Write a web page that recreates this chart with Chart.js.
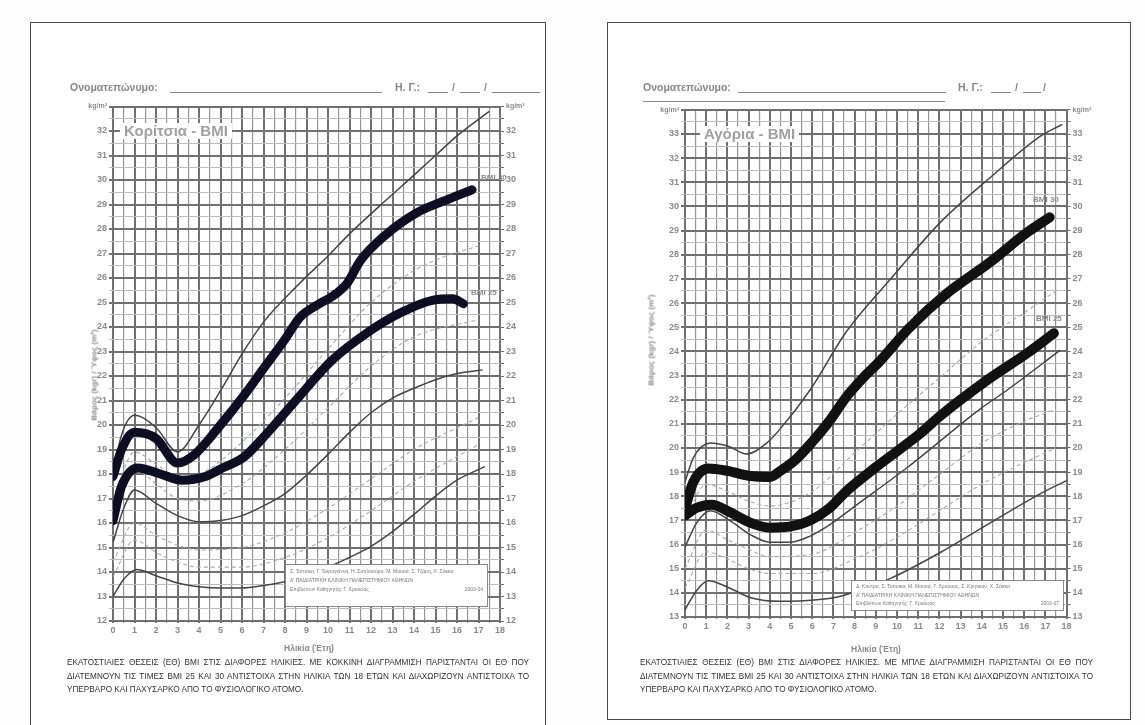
<!DOCTYPE html>
<html lang="el">
<head>
<meta charset="utf-8">
<title>BMI Κορίτσια - Αγόρια</title>
<script src="https://cdn.jsdelivr.net/npm/chart.js@4.4.0/dist/chart.umd.min.js"></script>
<style>
  html, body { margin: 0; padding: 0; background: #fdfdfd; }
  body { width: 1145px; height: 725px; position: relative; overflow: hidden; font-family: "Liberation Sans", Arial, sans-serif; }
  .panel { position: absolute; border: 1px solid #4a4a4a; background: #fff; box-sizing: border-box; }
  canvas { position: absolute; }
  .t { position: absolute; white-space: nowrap; }
  .hdr { font-size: 10.5px; font-weight: bold; color: #868686; }
  .ul { position: absolute; height: 0; border-bottom: 1.5px solid #8a8a8a; }
  .title { font-size: 15px; font-weight: bold; color: #a0a0a0; background: #fff; padding: 0 4px; line-height: 16px; }
  .ytitle { font-size: 8px; font-weight: bold; color: #8a8a8a; transform: translate(-50%, -50%) rotate(-90deg); }
  .xtitle { font-size: 8.5px; font-weight: bold; color: #8a8a8a; transform: translateX(-50%); }
  .bmi { font-size: 8px; font-weight: bold; color: #8a8a8a; }
  .box { position: absolute; border: 1.5px solid #8a8a8a; background: #fff; font-size: 5px; color: #777; padding: 2px 4px; box-sizing: border-box; line-height: 9px; white-space: nowrap; overflow: hidden; }
  .cap { position: absolute; font-size: 8.2px; color: #333; line-height: 13.5px; }
  .cap div { text-align: justify; text-align-last: justify; }
  .cap div.last { text-align-last: left; }
</style>
</head>
<body>

<div class="panel" style="left:30px;top:22px;width:516px;height:712px"></div>
<div class="panel" style="left:607px;top:22px;width:524px;height:698px"></div>

<canvas id="girls" width="516" height="640" style="left:30px;top:22px"></canvas>
<canvas id="boys" width="524" height="640" style="left:607px;top:22px"></canvas>

<!-- left sheet texts -->
<div class="t hdr" style="left:70px;top:81px">Ονοματεπώνυμο:</div>
<div class="ul" style="left:170px;top:92px;width:212px"></div>
<div class="t hdr" style="left:395px;top:81px">Η. Γ.:</div>
<div class="ul" style="left:428px;top:92px;width:20px"></div>
<div class="t hdr" style="left:452px;top:81px">/</div>
<div class="ul" style="left:460px;top:92px;width:20px"></div>
<div class="t hdr" style="left:484px;top:81px">/</div>
<div class="ul" style="left:492px;top:92px;width:48px"></div>

<div class="t title" style="left:120px;top:123px">Κορίτσια - BMI</div>
<div class="t ytitle" style="left:94px;top:375px">Βάρος (kgr) / Ύψος (m²)</div>
<div class="t xtitle" style="left:309px;top:643px">Ηλικία (Έτη)</div>
<div class="t bmi" style="left:481px;top:173px">BMI 30</div>
<div class="t bmi" style="left:471px;top:288px">BMI 25</div>

<div class="box" style="left:285px;top:564px;width:203px;height:43px">
  <div>Σ. Τσίτσικα, Γ. Τσιρογιάννη, Η. Σαπλαούρα, Μ. Μουσά, Σ. Τζάρη, Χ. Σάκκα</div>
  <div>Α' ΠΑΙΔΙΑΤΡΙΚΗ ΚΛΙΝΙΚΗ ΠΑΝΕΠΙΣΤΗΜΙΟΥ ΑΘΗΝΩΝ</div>
  <div>Επιβλέπων Καθηγητής: Γ. Χρούσος<span style="float:right">2003-04</span></div>
</div>

<div class="cap" style="left:67px;top:656px;width:462px">
  <div>ΕΚΑΤΟΣΤΙΑΙΕΣ ΘΕΣΕΙΣ (ΕΘ) BMI ΣΤΙΣ ΔΙΑΦΟΡΕΣ ΗΛΙΚΙΕΣ. ΜΕ ΚΟΚΚΙΝΗ ΔΙΑΓΡΑΜΜΙΣΗ ΠΑΡΙΣΤΑΝΤΑΙ ΟΙ ΕΘ ΠΟΥ</div>
  <div>ΔΙΑΤΕΜΝΟΥΝ ΤΙΣ ΤΙΜΕΣ BMI 25 ΚΑΙ 30 ΑΝΤΙΣΤΟΙΧΑ ΣΤΗΝ ΗΛΙΚΙΑ ΤΩΝ 18 ΕΤΩΝ ΚΑΙ ΔΙΑΧΩΡΙΖΟΥΝ ΑΝΤΙΣΤΟΙΧΑ ΤΟ</div>
  <div class="last">ΥΠΕΡΒΑΡΟ ΚΑΙ ΠΑΧΥΣΑΡΚΟ ΑΠΟ ΤΟ ΦΥΣΙΟΛΟΓΙΚΟ ΑΤΟΜΟ.</div>
</div>

<!-- right sheet texts -->
<div class="t hdr" style="left:643px;top:81px">Ονοματεπώνυμο:</div>
<div class="ul" style="left:738px;top:92px;width:208px"></div>
<div class="ul" style="left:643px;top:101px;width:302px"></div>
<div class="t hdr" style="left:958px;top:81px">Η. Γ.:</div>
<div class="ul" style="left:991px;top:92px;width:20px"></div>
<div class="t hdr" style="left:1015px;top:81px">/</div>
<div class="ul" style="left:1023px;top:92px;width:18px"></div>
<div class="t hdr" style="left:1043px;top:81px">/</div>

<div class="t title" style="left:700px;top:126px">Αγόρια - BMI</div>
<div class="t ytitle" style="left:651px;top:340px">Βάρος (kgr) / Ύψος (m²)</div>
<div class="t xtitle" style="left:876px;top:644px">Ηλικία (Έτη)</div>
<div class="t bmi" style="left:1033px;top:195px">BMI 30</div>
<div class="t bmi" style="left:1036px;top:314px">BMI 25</div>

<div class="box" style="left:851px;top:580px;width:213px;height:31px;line-height:8.5px;padding-top:1px">
  <div>Δ. Κούτρα, Σ. Τσίτσικα, Μ. Μουσά, Γ. Χρούσος, Σ. Κρητικού, Χ. Σάκκα</div>
  <div>Α' ΠΑΙΔΙΑΤΡΙΚΗ ΚΛΙΝΙΚΗ ΠΑΝΕΠΙΣΤΗΜΙΟΥ ΑΘΗΝΩΝ</div>
  <div>Επιβλέπων Καθηγητής: Γ. Χρούσος<span style="float:right">2003-07</span></div>
</div>

<div class="cap" style="left:640px;top:656px;width:453px">
  <div>ΕΚΑΤΟΣΤΙΑΙΕΣ ΘΕΣΕΙΣ (ΕΘ) BMI ΣΤΙΣ ΔΙΑΦΟΡΕΣ ΗΛΙΚΙΕΣ. ΜΕ ΜΠΛΕ ΔΙΑΓΡΑΜΜΙΣΗ ΠΑΡΙΣΤΑΝΤΑΙ ΟΙ ΕΘ ΠΟΥ</div>
  <div>ΔΙΑΤΕΜΝΟΥΝ ΤΙΣ ΤΙΜΕΣ BMI 25 ΚΑΙ 30 ΑΝΤΙΣΤΟΙΧΑ ΣΤΗΝ ΗΛΙΚΙΑ ΤΩΝ 18 ΕΤΩΝ ΚΑΙ ΔΙΑΧΩΡΙΖΟΥΝ ΑΝΤΙΣΤΟΙΧΑ ΤΟ</div>
  <div class="last">ΥΠΕΡΒΑΡΟ ΚΑΙ ΠΑΧΥΣΑΡΚΟ ΑΠΟ ΤΟ ΦΥΣΙΟΛΟΓΙΚΟ ΑΤΟΜΟ.</div>
</div>

<script>
/* BMI percentile sheets, girls (left) and boys (right) */

// [age (years), BMI (kg/m2)] read from the scanned sheets
const G_BMI30 = [[0,17.9],[0.4,19.0],[1.0,19.7],[2,19.45],[3,18.45],[3.8,18.8],[5,20.0],[6,21.1],[7,22.3],[8,23.5],[8.7,24.4],[9.5,24.9],[10.2,25.25],[10.9,25.8],[11.5,26.7],[12.6,27.7],[14.1,28.65],[15.7,29.25],[16.7,29.6]];
const G_BMI25 = [[0,16.1],[0.4,17.5],[1.15,18.25],[2.2,18.0],[3.2,17.75],[4.3,17.9],[5,18.2],[6.1,18.7],[7,19.5],[8.5,21.0],[10.2,22.65],[11.8,23.75],[13.35,24.57],[14.9,25.1],[15.8,25.15],[16.3,24.95]];
const G_TOP = [[0,18.0],[0.4,19.6],[1,20.4],[2,19.9],[3,18.9],[4,20.0],[5,21.4],[6,22.9],[7,24.2],[8.7,25.8],[10,26.9],[11,27.8],[12.6,29.1],[14,30.2],[15,31.0],[16,31.8],[17.5,32.8]];
const G_MID = [[0,15.2],[0.5,16.6],[1,17.35],[2,16.8],[3,16.3],[4,16.05],[5,16.1],[6,16.3],[7,16.7],[8,17.2],[9,17.95],[10,18.8],[11,19.7],[12,20.5],[13,21.1],[14,21.5],[15,21.85],[16,22.1],[17.2,22.25]];
const G_LOW = [[0,13.0],[0.5,13.7],[1.1,14.1],[2,13.85],[3,13.55],[4,13.4],[5,13.35],[6,13.35],[7,13.45],[8,13.6],[9,13.85],[10,14.2],[11,14.6],[12,15.05],[13,15.65],[14,16.35],[15,17.1],[16,17.75],[17.3,18.3]];
const G_D1 = [[0,16.9],[1,18.9],[2,18.4],[3,17.9],[4,18.0],[6,19.3],[8,21.1],[10,23.1],[12,25.0],[14,26.3],[15.5,26.9],[17,27.3]];
const G_D2 = [[0,16.2],[1,18.2],[2,17.6],[3,17.0],[4,16.9],[6,17.6],[8,19.0],[10,20.7],[12,22.4],[14,23.6],[17,24.3]];
const G_D3 = [[0,14.4],[1,16.0],[2,15.5],[3,15.1],[4,14.9],[6,15.0],[8,15.6],[10,16.6],[12,17.8],[14,19.0],[17,20.3]];
const G_D4 = [[0,13.8],[1,15.3],[2,14.8],[3,14.4],[4,14.2],[6,14.2],[8,14.6],[10,15.4],[12,16.5],[14,17.7],[17,19.2]];

const B_BMI30 = [[0,17.5],[0.4,18.6],[1.1,19.15],[2,19.05],[3,18.85],[4,18.8],[4.5,19.05],[5.2,19.5],[6.05,20.3],[6.8,21.1],[7.6,22.1],[8.4,22.9],[9.2,23.6],[10.5,24.9],[12.35,26.4],[14.4,27.7],[16.1,28.9],[17.2,29.55]];
const B_BMI25 = [[0,17.2],[0.5,17.5],[1.25,17.65],[2.1,17.35],[3.1,16.9],[4,16.7],[5,16.75],[5.9,17.0],[6.8,17.5],[7.6,18.2],[9,19.2],[11.1,20.6],[12,21.3],[14.4,22.9],[16.1,23.9],[17.4,24.75]];
const B_TOP = [[0,18.6],[0.4,19.6],[1.2,20.2],[2.1,20.05],[2.9,19.75],[3.85,20.2],[4.5,20.8],[5.9,22.4],[7.6,24.8],[9.8,27.1],[12,29.3],[14.4,31.2],[16.75,32.9],[17.8,33.4]];
const B_MID = [[0,15.9],[0.55,16.9],[1.2,17.4],[2.1,17.0],[3.1,16.4],[4,16.1],[5,16.1],[5.9,16.35],[6.8,16.8],[7.8,17.45],[10.5,19.2],[13.9,21.6],[15.2,22.4],[17.7,24.05]];
const B_LOW = [[0,13.3],[0.55,14.1],[1.1,14.5],[2.1,14.2],[3.1,13.8],[4.5,13.65],[6.1,13.7],[7.3,13.85],[8.5,14.2],[9.7,14.6],[12,15.65],[14.4,16.9],[16.75,18.1],[18,18.65]];
const B_D1 = [[0,17.0],[1,18.5],[2,18.2],[3,17.8],[4,17.6],[6,18.2],[8,19.8],[10,21.4],[12,22.9],[14,24.4],[16,25.6],[17.5,26.5]];
const B_D2 = [[0,15.0],[1,16.6],[2,16.2],[3,15.8],[4,15.5],[6,15.6],[8,16.5],[10,17.6],[12,18.9],[14,20.2],[16,21.1],[17.5,21.6]];
const B_D3 = [[0,14.2],[1,15.7],[2,15.4],[3,15.0],[4,14.8],[6,14.8],[8,15.4],[10,16.3],[12,17.4],[14,18.5],[16,19.4],[17.5,20.0]];

const AGE_MIN = 0, AGE_MAX = 18;
const G_Y = [12, 33];
const B_Y = [13, 34];

const pts = a => a.map(([x, y]) => ({ x, y }));
const isInt = v => Math.abs(v - Math.round(v)) < 1e-6;
const TICK_FONT = { family: 'Liberation Sans', size: 9, weight: 'bold' };

function thick(data, color, w) {
  return { data: pts(data), borderColor: color, borderWidth: w, borderCapStyle: 'round', borderJoinStyle: 'round' };
}
function thin(data) {
  return { data: pts(data), borderColor: '#454545', borderWidth: 1.5 };
}
function dashed(data) {
  return { data: pts(data), borderColor: '#aaaaaa', borderWidth: 1.1, borderDash: [4, 3] };
}

function yTicks(max) {
  return {
    stepSize: 0.5, autoSkip: false, padding: 2, color: '#8a8a8a',
    font: c => (c.tick && c.tick.value === max) ? { family: 'Liberation Sans', size: 7, weight: 'bold' } : TICK_FONT,
    callback: v => v === max ? 'kg/m²' : (isInt(v) ? v : ''),
  };
}

function makeSheet(id, datasets, yr, pad) {
  const [ymin, ymax] = yr;
  new Chart(document.getElementById(id), {
    type: 'line',
    data: { datasets: datasets.map(d => Object.assign({ pointRadius: 0, cubicInterpolationMode: 'monotone', fill: false }, d)) },
    options: {
      responsive: false,
      animation: false,
      layout: { padding: pad },
      plugins: { legend: { display: false }, tooltip: { enabled: false } },
      scales: {
        x: {
          type: 'linear', min: AGE_MIN, max: AGE_MAX,
          afterFit: s => { s.height = 20; },
          border: { display: false },
          grid: {
            color: c => isInt(c.tick.value) ? '#707070' : '#959595',
            lineWidth: c => isInt(c.tick.value) ? 2 : 1.2,
            tickLength: 2,
          },
          ticks: { stepSize: 0.5, autoSkip: false, maxRotation: 0, padding: 2, color: '#8a8a8a', font: TICK_FONT,
                   callback: v => isInt(v) ? v : '' },
        },
        y: {
          type: 'linear', min: ymin, max: ymax, position: 'left',
          afterFit: s => { s.width = 30; },
          border: { display: false },
          grid: {
            color: c => isInt(c.tick.value) ? '#707070' : '#bdbdbd',
            lineWidth: c => isInt(c.tick.value) ? 2 : 1,
            tickLength: 4,
          },
          ticks: yTicks(ymax),
        },
        y2: {
          type: 'linear', min: ymin, max: ymax, position: 'right',
          afterFit: s => { s.width = 30; },
          border: { display: false },
          grid: { drawOnChartArea: false, color: '#707070', tickLength: 4 },
          ticks: yTicks(ymax),
        },
      },
    },
  });
}

makeSheet('girls', [
  thick(G_BMI30, '#0e0e22', 9),
  thick(G_BMI25, '#0e0e22', 9),
  thin(G_TOP), thin(G_MID), thin(G_LOW),
  dashed(G_D1), dashed(G_D2), dashed(G_D3), dashed(G_D4),
], G_Y, { left: 53, right: 16, top: 84.5, bottom: 21 });

makeSheet('boys', [
  thick(B_BMI30, '#111111', 10),
  thick(B_BMI25, '#111111', 10),
  thin(B_TOP), thin(B_MID), thin(B_LOW),
  dashed(B_D1), dashed(B_D2), dashed(B_D3),
], B_Y, { left: 48, right: 34.4, top: 87.85, bottom: 25 });
</script>
</body>
</html>
